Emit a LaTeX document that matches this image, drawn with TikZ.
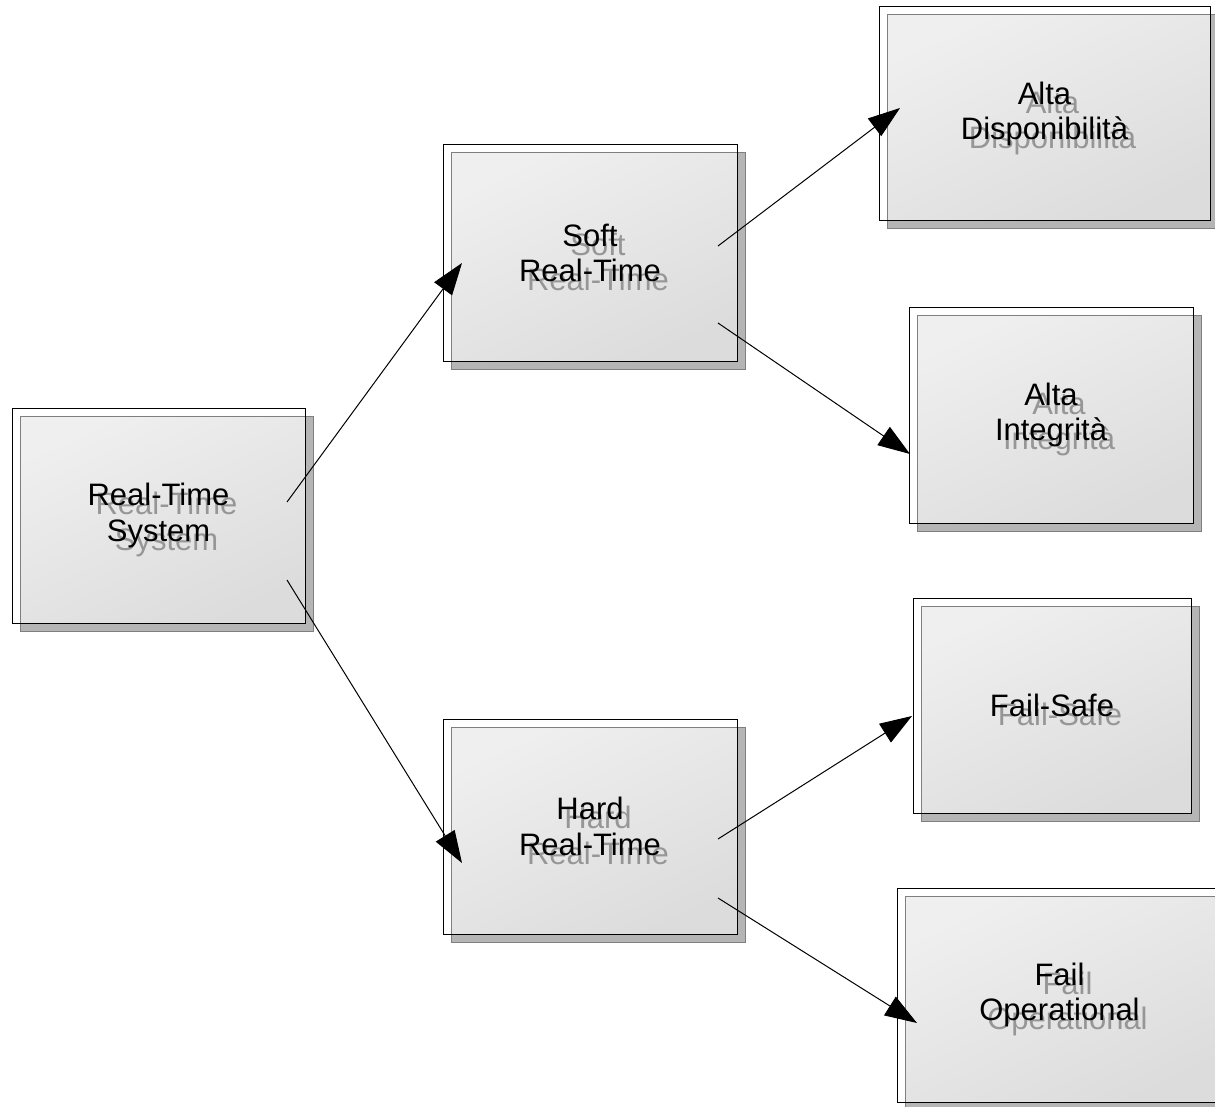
\documentclass[tikz,border=0pt]{standalone}
\usepackage{fontspec}
\setmainfont{Liberation Sans}
\usetikzlibrary{arrows.meta}

\definecolor{shadowfill}{HTML}{B5B5B5}
\definecolor{faceTop}{HTML}{EFEFEF}
\definecolor{faceBottom}{HTML}{DCDCDC}
\definecolor{faceLine}{HTML}{7F7F7F}
\definecolor{textShadow}{HTML}{969696}

\tikzset{
  boxtext/.style={font=\fontsize{31}{35.6}\selectfont, align=center},
  outerbox/.style={boxtext, draw=black, line width=1pt, inner sep=0pt},
  labelshadow/.style={boxtext, text=textShadow, inner sep=0pt},
  faceline/.style={draw=faceLine, line width=1pt},
  link/.style={draw=black, line width=1pt, -{Triangle[length=32pt,width=22pt]}},
}

% #1 name, (#2,#3)-(#4,#5) front outline, #6 label
\newcommand\diagbox[6]{%
  \fill[shadowfill] (#2+8,#3+8) rectangle (#4+8,#5+8);
  \shade[top color=faceTop, bottom color=faceBottom, shading angle=25]
    (#2+8,#3+8) rectangle (#4,#5);
  \draw[faceline] (#2+8,#3+8) rectangle (#4+8,#5+8);
  \node[labelshadow] at ({(#2+#4)/2+8},{(#3+#5)/2+9}) {#6};
  \node[outerbox, minimum width={(#4-#2)*1pt}, minimum height={(#5-#3)*1pt}]
    (#1) at ({(#2+#4)/2},{(#3+#5)/2}) {#6};
}

\begin{document}
\begin{tikzpicture}[x=1pt, y=-1pt]
  \useasboundingbox (0,0) rectangle (1215,1107);

  \diagbox{rts}{12}{408}{305}{623}{Real-Time\\System}
  \diagbox{soft}{443}{145}{737}{361}{Soft\\Real-Time}
  \diagbox{hard}{443}{719}{737}{934}{Hard\\Real-Time}
  \diagbox{disp}{879}{7}{1210}{221}{Alta\\Disponibilità}
  \diagbox{integ}{909}{307}{1193}{523}{Alta\\Integrità}
  \diagbox{fsafe}{913}{598}{1191}{813}{Fail-Safe}
  \diagbox{fop}{897}{888}{1222}{1102}{Fail\\Operational}

  % connector ends
  \coordinate (rts-up)    at (287,502);
  \coordinate (rts-down)  at (287,580);
  \coordinate (soft-in)   at (462,263);
  \coordinate (hard-in)   at (462,863);
  \coordinate (soft-up)   at (718,246);
  \coordinate (soft-down) at (718,323);
  \coordinate (hard-up)   at (718,839);
  \coordinate (hard-down) at (718,898);
  \coordinate (disp-in)   at (900,108);
  \coordinate (integ-in)  at (910,454);
  \coordinate (fsafe-in)  at (912,716);
  \coordinate (fop-in)    at (917,1023);

  \draw[link] (rts-up) -- (soft-in);
  \draw[link] (rts-down) -- (hard-in);
  \draw[link] (soft-up) -- (disp-in);
  \draw[link] (soft-down) -- (integ-in);
  \draw[link] (hard-up) -- (fsafe-in);
  \draw[link] (hard-down) -- (fop-in);
\end{tikzpicture}
\end{document}
